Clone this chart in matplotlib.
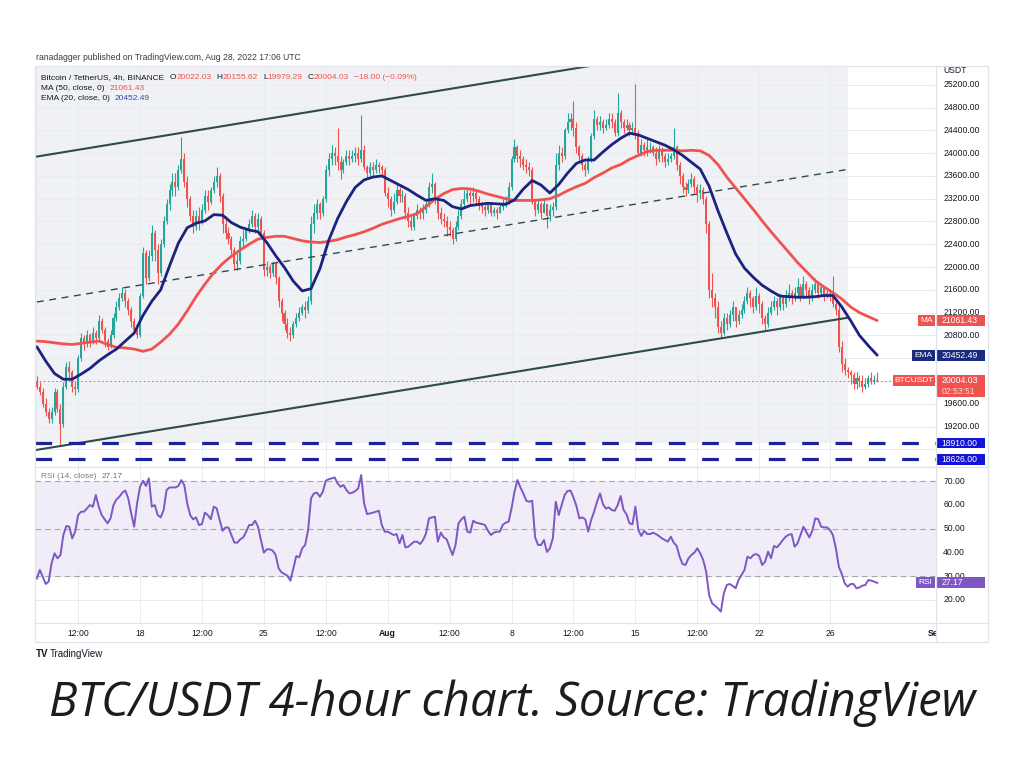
import numpy as np
import pandas as pd
import matplotlib
matplotlib.use('Agg')
import matplotlib.pyplot as plt
import matplotlib.dates as mdates
import matplotlib.transforms as mtransforms
from matplotlib.patches import Rectangle

plt.rcParams['font.family'] = ['Liberation Sans', 'DejaVu Sans']
plt.rcParams['lines.scale_dashes'] = False

# ---------------- data (4h candles, BTC/USDT) ----------------
first_open = 20000.0
close = [
    19900, 19800, 19600, 19450, 19330,                      # Jul 12 (from 04:00)
    19450, 19800, 19500, 19250, 19900, 20250,               # Jul 13
    20150, 19900, 19850, 20400, 20750, 20650,               # Jul 14
    20800, 20700, 20850, 20750, 21050, 20900,               # Jul 15
    20700, 20600, 20800, 21100, 21300, 21450,               # Jul 16
    21550, 21400, 21250, 21050, 20900, 20800,               # Jul 17
    21500, 22250, 21800, 22200, 22600, 22300,               # Jul 18
    21900, 22400, 22800, 23100, 23350, 23500,               # Jul 19
    23400, 23700, 23900, 23500, 23200, 22900,               # Jul 20
    22700, 22900, 22800, 23000, 23250, 23150,               # Jul 21
    23350, 23500, 23600, 23250, 22750, 22600,               # Jul 22
    22500, 22300, 22050, 22100, 22450, 22500,               # Jul 23
    22650, 22750, 22900, 22700, 22850, 22600,               # Jul 24
    21950, 22000, 21900, 22050, 21800, 21400,               # Jul 25
    21200, 21000, 20850, 20800, 21000, 21100,               # Jul 26
    21200, 21300, 21250, 21400, 22750, 22950,               # Jul 27
    23100, 22950, 23200, 23700, 23900, 24000,               # Jul 28
    23950, 23850, 23700, 23850, 23950, 23900,               # Jul 29
    23950, 24000, 23900, 24050, 23750, 23650,               # Jul 30
    23750, 23700, 23800, 23750, 23700, 23300,               # Jul 31
    23200, 23000, 23150, 23350, 23250, 23250,               # Aug 1
    22950, 22800, 22700, 22900, 23000, 22950,               # Aug 2
    23000, 23100, 23400, 23450, 23200, 22950,               # Aug 3
    22850, 22800, 22700, 22650, 22500, 22700,               # Aug 4
    22900, 23100, 23200, 23300, 23250, 23300,               # Aug 5
    23200, 23100, 23050, 23000, 23100, 22950,               # Aug 6
    23000, 22950, 23050, 23100, 23150, 23400,               # Aug 7
    23900, 24100, 23950, 23900, 23800, 23750,               # Aug 8
    23700, 23150, 23000, 23100, 22950, 23100,               # Aug 9
    22900, 23000, 23050, 23800, 24000, 23950,               # Aug 10
    24400, 24550, 24600, 24450, 24100, 23950,               # Aug 11
    23800, 23700, 23900, 24300, 24600, 24500,               # Aug 12
    24550, 24450, 24500, 24600, 24550, 24350,               # Aug 13
    24700, 24550, 24450, 24500, 24400, 24450,               # Aug 14
    24350, 24000, 24150, 24050, 24100, 24100,               # Aug 15
    24000, 23900, 24050, 23950, 23850, 23900,               # Aug 16
    23950, 24100, 23800, 23600, 23400, 23350,               # Aug 17
    23450, 23550, 23400, 23300, 23350, 23200,               # Aug 18
    22750, 21600, 21450, 21300, 20950, 20850,               # Aug 19
    21100, 21000, 21150, 21300, 21050, 21150,               # Aug 20
    21250, 21400, 21550, 21450, 21300, 21500,               # Aug 21
    21350, 21100, 21000, 21200, 21300, 21400,               # Aug 22
    21300, 21450, 21350, 21500, 21550, 21450,               # Aug 23
    21550, 21650, 21500, 21700, 21600, 21450,               # Aug 24
    21600, 21700, 21550, 21650, 21500, 21550,               # Aug 25
    21500, 21350, 21250, 20600, 20300, 20200,               # Aug 26
    20150, 20100, 19950, 20050, 20000, 19900,               # Aug 27
    19950, 20050, 20000, 20022.03, 20004.03,                # Aug 28
]
high = [
    20080, 19980, 19880, 19700, 19520,
    19550, 19880, 19860, 19600, 19980, 20330,
    20350, 20200, 20000, 20450, 20850, 20800,
    20900, 20850, 20950, 20900, 21150, 21100,
    20950, 20750, 20900, 21200, 21400, 21550,
    21650, 21620, 21450, 21300, 21100, 20950,
    21550, 22350, 22300, 22300, 22730, 22650,
    22400, 22500, 22900, 23200, 23450, 23650,
    23650, 23800, 24280, 24000, 23600, 23250,
    23000, 23000, 23050, 23100, 23350, 23350,
    23400, 23600, 23750, 23650, 23300, 22900,
    22700, 22550, 22350, 22250, 22550, 22650,
    22700, 22850, 23000, 22950, 22950, 22900,
    22650, 22100, 22050, 22100, 22100, 21850,
    21450, 21250, 21100, 20950, 21050, 21200,
    21300, 21350, 21400, 21500, 22900, 23100,
    23200, 23150, 23250, 23800, 24000, 24150,
    24100, 24440, 23950, 23900, 24050, 24050,
    24050, 24100, 24100, 24670, 24150, 23800,
    23850, 23850, 23900, 23850, 23800, 23750,
    23400, 23250, 23300, 23450, 23400, 23350,
    23300, 23050, 22900, 22950, 23100, 23050,
    23100, 23200, 23500, 23650, 23500, 23250,
    23050, 22950, 22900, 22800, 22700, 22800,
    23000, 23200, 23350, 23400, 23350, 23400,
    23350, 23250, 23150, 23100, 23150, 23150,
    23050, 23050, 23100, 23200, 23250, 23500,
    23950, 24250, 24150, 24050, 23950, 23900,
    23850, 23750, 23200, 23200, 23150, 23200,
    23100, 23100, 23150, 24000, 24150, 24100,
    24450, 24700, 24700, 24920, 24550, 24150,
    24000, 23850, 23950, 24350, 24750, 24650,
    24650, 24600, 24600, 24700, 24700, 24600,
    25050, 24750, 24600, 24600, 24550, 24550,
    25210, 24400, 24250, 24200, 24250, 24200,
    24150, 24100, 24150, 24100, 24000, 24000,
    24000, 24440, 24150, 23850, 23650, 23500,
    23550, 23650, 23600, 23450, 23450, 23400,
    23250, 22800, 21900, 21550, 21400, 21050,
    21200, 21200, 21250, 21400, 21300, 21250,
    21350, 21500, 21650, 21600, 21500, 21650,
    21550, 21400, 21150, 21300, 21400, 21500,
    21450, 21550, 21500, 21600, 21700, 21600,
    21650, 21800, 21700, 21850, 21750, 21650,
    21700, 21800, 21750, 21700, 21650, 21600,
    21600, 21850, 21450, 21350, 20700, 20400,
    20250, 20200, 20150, 20150, 20100, 20100,
    20050, 20100, 20150, 20100, 20155.62,
]
low = [
    19850, 19750, 19550, 19380, 19270,
    19270, 19400, 19450, 18880, 19200, 19850,
    20050, 19800, 19750, 19800, 20350, 20550,
    20600, 20600, 20650, 20650, 20700, 20850,
    20600, 20550, 20580, 20750, 21050, 21250,
    21400, 21300, 21150, 20950, 20850, 20750,
    20780, 21450, 21700, 21750, 22100, 22100,
    21700, 21850, 22350, 22750, 23000, 23250,
    23250, 23350, 23650, 23400, 23050, 22800,
    22600, 22650, 22650, 22750, 22950, 23000,
    23100, 23300, 23400, 23150, 22600, 22500,
    22400, 22200, 21950, 21950, 22050, 22350,
    22450, 22600, 22700, 22600, 22650, 22550,
    21850, 21850, 21800, 21850, 21700, 21300,
    21050, 20900, 20750, 20700, 20750, 20950,
    21050, 21150, 21100, 21200, 21350, 22600,
    22850, 22850, 22900, 23150, 23600, 23800,
    23800, 23700, 23550, 23650, 23800, 23800,
    23850, 23850, 23800, 23850, 23700, 23550,
    23600, 23600, 23650, 23650, 23600, 23250,
    23050, 22900, 22950, 23100, 23150, 23150,
    22850, 22700, 22650, 22650, 22850, 22850,
    22850, 22950, 23050, 23300, 23100, 22850,
    22750, 22700, 22550, 22550, 22400, 22450,
    22650, 22850, 23050, 23150, 23100, 23150,
    23100, 23000, 22950, 22900, 22950, 22900,
    22900, 22850, 22950, 23000, 23050, 23100,
    23350, 23850, 23850, 23750, 23700, 23650,
    23600, 23100, 22900, 22950, 22850, 22950,
    22680, 22800, 22900, 23000, 23700, 23850,
    23900, 24350, 24400, 24300, 24000, 23850,
    23700, 23600, 23650, 23850, 24250, 24400,
    24400, 24350, 24400, 24450, 24450, 24300,
    24300, 24450, 24350, 24400, 24300, 24350,
    24250, 23950, 23950, 23950, 23950, 24000,
    23950, 23800, 23850, 23850, 23750, 23800,
    23850, 23900, 23700, 23450, 23300, 23250,
    23300, 23400, 23300, 23150, 23200, 23100,
    22600, 21450, 21300, 21100, 20850, 20750,
    20800, 20900, 20950, 21050, 20950, 21000,
    21100, 21200, 21350, 21300, 21200, 21250,
    21200, 21000, 20900, 20950, 21150, 21250,
    21150, 21250, 21250, 21300, 21400, 21350,
    21400, 21450, 21400, 21450, 21500, 21350,
    21400, 21550, 21450, 21500, 21400, 21450,
    21400, 21300, 21150, 20500, 20150, 20100,
    20050, 19950, 19850, 19850, 19900, 19800,
    19850, 19900, 19950, 19950, 19979.29,
]
# MA(50) and EMA(20), read every third candle (12h)
ma50 = [
    20700, 20690, 20670, 20650, 20640, 20660, 20680, 20700, 20640, 20590,
    20580, 20560, 20520, 20560, 20680, 20820, 21000, 21230, 21480, 21700,
    21900, 22060, 22190, 22300, 22400, 22490, 22520, 22540, 22540, 22500,
    22460, 22440, 22430, 22450, 22480, 22530, 22570, 22620, 22680, 22750,
    22800, 22850, 22890, 22940, 23060, 23190, 23290, 23360, 23380, 23370,
    23330, 23280, 23240, 23200, 23170, 23170, 23170, 23180, 23200, 23260,
    23340, 23410, 23470, 23570, 23650, 23740, 23800, 23890, 23960, 24030,
    24050, 24050, 24050, 24040, 24050, 24040, 23960, 23800, 23580, 23390,
    23200, 23010, 22810, 22620, 22440, 22260, 22080, 21920, 21760, 21650,
    21550, 21440, 21300, 21200, 21130, 21061.43,
]
ema20 = [
    20600, 20350, 20130, 20030, 20030, 20120, 20220, 20350, 20460, 20560,
    20700, 20840, 21150, 21400, 21600, 22020, 22420, 22690, 22770, 22810,
    22920, 22910, 22780, 22700, 22650, 22620, 22430, 22200, 21990, 21750,
    21580, 21620, 21970, 22470, 22850, 23150, 23400, 23530, 23580, 23600,
    23520, 23440, 23360, 23260, 23170, 23200, 23170, 23060, 23020, 23080,
    23100, 23120, 23110, 23100, 23180, 23370, 23520, 23440, 23300, 23450,
    23650, 23820, 23880, 23880, 24020, 24150, 24260, 24350, 24320, 24260,
    24200, 24140, 24060, 23960, 23840, 23720, 23420, 22990, 22600, 22230,
    21980, 21820, 21680, 21580, 21490, 21480, 21470, 21470, 21480, 21500,
    21500, 21300, 21060, 20800, 20620, 20452.49,
]
rsi = [
    29.0, 32.6, 29.8, 26.7, 27.7, 35.4, 39.6, 37.5, 38.9, 47.3,
    51.1, 50.8, 45.9, 48.7, 55.7, 57.1, 57.1, 58.5, 59.9, 59.2,
    64.1, 59.2, 55.7, 53.9, 52.2, 54.3, 59.9, 62.3, 63.4, 65.1,
    66.0, 62.7, 56.4, 50.8, 60.6, 67.6, 70.1, 67.9, 71.1, 59.2,
    59.9, 55.7, 54.7, 57.8, 66.2, 67.3, 67.3, 67.3, 67.9, 70.4,
    68.3, 60.6, 55.7, 53.9, 54.7, 51.5, 51.9, 56.7, 55.7, 53.9,
    59.2, 58.5, 53.6, 49.1, 50.5, 50.4, 47.3, 44.1, 44.1, 45.5,
    46.3, 48.7, 51.5, 51.5, 53.3, 50.8, 45.2, 39.9, 41.3, 41.3,
    40.7, 38.9, 33.3, 31.6, 30.9, 30.1, 28.1, 33.3, 38.5, 37.9,
    41.7, 43.1, 49.4, 62.7, 64.8, 65.1, 63.4, 65.5, 70.1, 70.8,
    71.1, 71.5, 69.0, 67.6, 68.3, 66.2, 64.8, 65.1, 65.8, 66.9,
    72.5, 60.6, 56.1, 56.4, 56.7, 57.1, 57.5, 51.5, 48.7, 48.7,
    48.0, 47.3, 47.7, 43.8, 47.3, 42.1, 42.4, 43.5, 44.5, 44.5,
    43.5, 45.2, 48.0, 54.3, 54.7, 55.0, 44.5, 48.3, 46.3, 45.5,
    42.1, 38.9, 43.1, 52.2, 53.9, 55.0, 48.7, 48.3, 53.3, 52.5,
    52.2, 51.9, 51.5, 49.1, 47.3, 48.3, 48.7, 48.7, 51.5, 52.5,
    52.9, 58.5, 65.5, 70.4, 67.3, 64.8, 61.7, 61.3, 61.7, 46.3,
    43.1, 43.1, 45.2, 40.2, 41.7, 45.9, 61.3, 55.7, 59.9, 64.1,
    65.8, 66.0, 63.1, 59.5, 54.3, 54.7, 53.9, 48.7, 53.6, 57.1,
    61.3, 64.8, 60.3, 58.4, 58.9, 57.8, 57.5, 59.9, 63.7, 57.8,
    56.0, 52.2, 51.8, 59.2, 49.4, 46.9, 49.1, 47.7, 47.7, 48.3,
    47.7, 46.9, 45.9, 45.2, 44.5, 46.6, 44.1, 42.7, 38.2, 35.1,
    34.7, 37.5, 38.9, 39.9, 41.7, 39.6, 36.8, 31.9, 22.1, 18.6,
    17.6, 16.5, 15.1, 22.8, 26.3, 26.7, 25.9, 24.9, 28.4, 30.5,
    32.6, 38.2, 37.5, 38.9, 39.3, 38.5, 34.7, 36.1, 40.3, 37.5,
    42.7, 42.1, 43.5, 45.2, 46.6, 47.4, 47.7, 42.4, 43.8, 47.3,
    50.8, 48.5, 46.3, 49.1, 54.3, 54.0, 50.8, 50.5, 50.5, 49.4,
    47.3, 41.7, 34.0, 30.9, 27.0, 25.6, 26.7, 26.7, 24.9, 25.3,
    26.0, 26.3, 28.4, 28.1, 27.7, 27.17,
]
# drawn trend channel (time, price) endpoints
channel_upper = [('2022-07-12 04:00', 23940), ('2022-08-14 00:00', 25610)]
channel_mid = [('2022-07-12 04:00', 21386), ('2022-08-27 00:00', 23714)]
channel_lower = [('2022-07-12 04:00', 18790), ('2022-08-27 00:00', 21110)]
support_levels = [18910.00, 18626.00]
last_price = 20004.03
# 20000 and 20400 sit under the price tags in the original, so they are not shown
price_ticks = [19200, 19600, 20800, 21200, 21600, 22000, 22400, 22800,
               23200, 23600, 24000, 24400, 24800, 25200]
rsi_ticks = [70, 60, 50, 40, 30, 20]
time_ticks = ['2022-07-14 12:00', '2022-07-18', '2022-07-21 12:00', '2022-07-25',
              '2022-07-28 12:00', '2022-08-01', '2022-08-04 12:00', '2022-08-08',
              '2022-08-11 12:00', '2022-08-15', '2022-08-18 12:00', '2022-08-22',
              '2022-08-26', '2022-09-01']
time_labels = ['12:00', '18', '12:00', '25', '12:00', 'Aug', '12:00', '8',
               '12:00', '15', '12:00', '22', '26', 'Sep']

# ---------------- colours ----------------
UP, DOWN = '#26a69a', '#ef5350'
MA_C, EMA_C = '#ef5350', '#1a237e'
TXT = '#131722'
GRID = '#e8ebf0'
RSI_C = '#7e57c2'
LINE_C = '#2f4a4f'
LEVEL_C = '#1c2299'

W, H = 1024, 761
fig = plt.figure(figsize=(W / 100, H / 100), dpi=100)
fig.patch.set_facecolor('white')


def num(t):
    return mdates.date2num(pd.Timestamp(t).to_pydatetime())


times = pd.date_range('2022-07-12 04:00', periods=len(close), freq='4h')
xs = mdates.date2num(times.to_pydatetime())
c = np.array(close, float)
o = np.r_[first_open, c[:-1]]
hi = np.array(high, float)
lo = np.array(low, float)
up = c >= o
cols = np.where(up, UP, DOWN)

xlim = (num('2022-07-12 01:30'), num('2022-08-31 23:50'))
L, R = 35, 936
ax = fig.add_axes([L / W, 1 - 467 / H, (R - L) / W, (467 - 66) / H])
rx = fig.add_axes([L / W, 1 - 623 / H, (R - L) / W, (623 - 467) / H])
tx = fig.add_axes([L / W, 1 - 642 / H, (R - L) / W, (642 - 623) / H])
for a in (ax, rx, tx):
    a.set_xlim(*xlim)
    a.set_xticks([])
    a.set_yticks([])
    for s in a.spines.values():
        s.set_visible(False)
    a.patch.set_alpha(0)
ax.set_ylim(18489, 25530)
rx.set_ylim(10.3, 75.9)
tx.set_ylim(0, 1)

# grid
for p in range(18800, 25601, 400):
    ax.axhline(p, color=GRID, lw=0.7, zorder=0.5)
for v in rsi_ticks:
    rx.axhline(v, color=GRID, lw=0.7, zorder=0.5)
for t in time_ticks:
    ax.axvline(num(t), color=GRID, lw=0.7, zorder=0.5)
    rx.axvline(num(t), color=GRID, lw=0.7, zorder=0.5)

# shaded area of the drawing
ax.add_patch(Rectangle((xlim[0], support_levels[0]), num('2022-08-27 00:00') - xlim[0],
                       26000 - support_levels[0], facecolor='#eff1f4', edgecolor='none', zorder=0.3))

# candles
ax.vlines(xs, lo, hi, colors=cols, lw=0.8, zorder=2)
body = np.maximum(np.abs(c - o), 12)
ax.bar(xs, body, bottom=np.minimum(o, c), width=0.115, color=cols, linewidth=0, zorder=2.1)

# moving averages
ax.plot(xs[::3], ma50, color=MA_C, lw=2.0, zorder=3, solid_capstyle='round')
ax.plot(xs[::3], ema20, color=EMA_C, lw=2.0, zorder=3.1, solid_capstyle='round')

# channel
for pts, ls in ((channel_upper, '-'), (channel_lower, '-'), (channel_mid, (0, (5, 4)))):
    ax.plot([num(p[0]) for p in pts], [p[1] for p in pts], color=LINE_C,
            lw=1.5 if ls == '-' else 1.0, linestyle=ls, zorder=2.5)

# support levels and last price line
for lv in support_levels:
    ax.axhline(lv, color=LEVEL_C, lw=2.3, dashes=(12, 12), zorder=2.6)
ax.axhline(last_price, color=DOWN, lw=0.7, linestyle=(0, (1, 2)), zorder=1.8)

# RSI pane
rx.axhspan(30, 70, color='#f1edf8', zorder=0.2)
for v in (70, 50, 30):
    rx.axhline(v, color='#a3a6af', lw=0.8, dashes=(4, 3), zorder=0.6)
rx.plot(xs, rsi, color=RSI_C, lw=1.4, zorder=3)

# separators / frame
fig.add_artist(Rectangle((L / W, 1 - 642 / H), (988 - L) / W, (642 - 66) / H, transform=fig.transFigure,
                         fill=False, edgecolor='#e0e3eb', lw=0.9))
fig.add_artist(plt.Line2D([R / W, R / W], [1 - 642 / H, 1 - 66 / H], color='#e0e3eb', lw=0.9))
fig.add_artist(plt.Line2D([L / W, 988 / W], [1 - 467 / H, 1 - 467 / H], color='#e0e3eb', lw=0.9))
fig.add_artist(plt.Line2D([L / W, 988 / W], [1 - 623 / H, 1 - 623 / H], color='#e0e3eb', lw=0.9))

# price axis labels
tr = mtransforms.blended_transform_factory(ax.transAxes, ax.transData)
rtr = mtransforms.blended_transform_factory(rx.transAxes, rx.transData)
for p in price_ticks:
    ax.text(1.008, p, f'{p:.2f}', transform=tr, ha='left', va='center', fontsize=6.2, color=TXT, clip_on=False)
ax.text(1.008, 25450, 'USDT', transform=tr, ha='left', va='center', fontsize=6.2, color=TXT, clip_on=False)
for v in rsi_ticks:
    rx.text(1.008, v, f'{v:.2f}', transform=rtr, ha='left', va='center', fontsize=6.2, color=TXT, clip_on=False)


def axis_box(a, trans, y0, y1, color, lines, tag=None, tag_w=0.02):
    a.add_patch(Rectangle((1.001, y0), 0.053, y1 - y0, transform=trans, facecolor=color,
                          edgecolor='none', clip_on=False, zorder=6))
    n = len(lines)
    for k, (txt, col) in enumerate(lines):
        yy = y1 - (y1 - y0) * (k + 0.5) / n
        a.text(1.006, yy, txt, transform=trans, ha='left', va='center', fontsize=6.2,
               color=col, clip_on=False, zorder=7)
    if tag:
        a.add_patch(Rectangle((0.999 - tag_w, y1 - (y1 - y0) / n), tag_w, (y1 - y0) / n, transform=trans,
                              facecolor=color, edgecolor='none', clip_on=False, zorder=6))
        a.text(0.999 - tag_w / 2, y1 - (y1 - y0) / (2 * n), tag, transform=trans, ha='center',
               va='center', fontsize=6.0, color='white', clip_on=False, zorder=7)


hp = 190
axis_box(ax, tr, ma50[-1] - hp / 2, ma50[-1] + hp / 2, MA_C, [(f'{ma50[-1]:.2f}', 'white')], 'MA', 0.0195)
axis_box(ax, tr, ema20[-1] - hp / 2, ema20[-1] + hp / 2, '#1a2a80', [(f'{ema20[-1]:.2f}', 'white')], 'EMA', 0.026)
axis_box(ax, tr, last_price - 2.1 * hp / 2 - 95, last_price + hp / 2, '#ef5350',
         [(f'{last_price:.2f}', 'white'), ('02:53:51', '#ffd9d9')], 'BTCUSDT', 0.047)
for lv in support_levels:
    axis_box(ax, tr, lv - hp / 2, lv + hp / 2, '#1414d8', [(f'{lv:.2f}', 'white')])
axis_box(rx, rtr, rsi[-1] - 2.2, rsi[-1] + 2.4, RSI_C, [(f'{rsi[-1]:.2f}', 'white')], 'RSI', 0.021)

# time axis
for t, lab in zip(time_ticks, time_labels):
    tx.text(num(t), 0.45, lab, ha='center', va='center', fontsize=6.2, color=TXT,
            fontweight='bold' if lab in ('Aug', 'Sep') else 'normal', clip_on=True)

# legend texts
ren = fig.canvas.get_renderer()


def rich(x0, y0, parts, size=6.0):
    x = x0
    for s, col, gap in parts:
        t = fig.text(x / W, 1 - y0 / H, s, color=col, fontsize=size, ha='left', va='center')
        x += t.get_window_extent(renderer=ren).width + gap


fig.text(36 / W, 1 - 57 / H, 'ranadagger published on TradingView.com, Aug 28, 2022 17:06 UTC',
         fontsize=6.2, color='#3b3b3b', ha='left', va='center')
rich(41, 77.5, [('Bitcoin / TetherUS, 4h, BINANCE', TXT, 6), ('O', TXT, 0), ('20022.03', DOWN, 5),
                ('H', TXT, 0), ('20155.62', DOWN, 5), ('L', TXT, 0), ('19979.29', DOWN, 5),
                ('C', TXT, 0), ('20004.03', DOWN, 5), ('\u221218.00 (\u22120.09%)', DOWN, 0)])
rich(41, 88.5, [('MA (50, close, 0)', TXT, 5), (f'{ma50[-1]:.2f}', DOWN, 0)])
rich(41, 99.0, [('EMA (20, close, 0)', TXT, 5), (f'{ema20[-1]:.2f}', '#3949ab', 0)])
rich(41, 476.5, [('RSI (14, close)', '#787b86', 5), (f'{rsi[-1]:.2f}', RSI_C, 0)])

# footer logo and caption
fig.text(36 / W, 1 - 654 / H, 'TV', fontsize=7, fontweight='bold', color='#131722', ha='left', va='center')
fig.text(50 / W, 1 - 654 / H, 'TradingView', fontsize=7, color='#131722', ha='left', va='center')
fig.text(512 / W, 1 - 703 / H, 'BTC/USDT 4-hour chart. Source: TradingView', fontsize=34,
         family=['Open Sans', 'DejaVu Sans'], style='italic', color='#1c1c1c', ha='center', va='center')

fig.savefig('out.png', dpi=100, facecolor='white')
